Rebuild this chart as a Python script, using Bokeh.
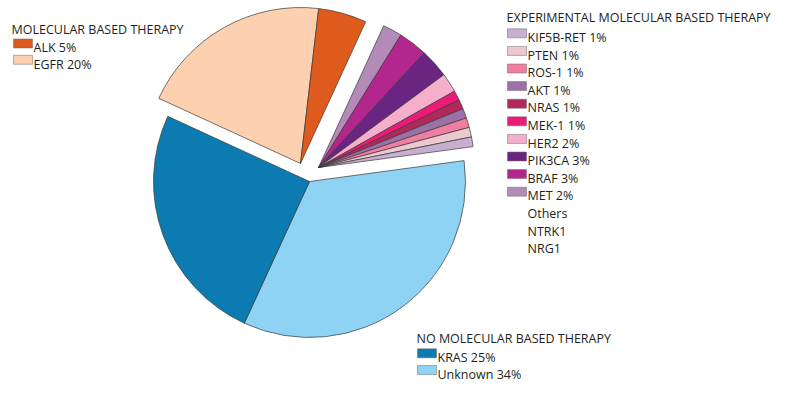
import numpy as np
from bokeh.plotting import figure
from bokeh.models import Range1d, ColumnDataSource
from bokeh.embed import file_html
from bokeh.resources import INLINE
from bokeh.core.properties import value

# ---- data (pie order, clockwise) ----
slice_names = ["Unknown", "KRAS", "EGFR", "ALK", "MET", "BRAF", "PIK3CA", "HER2",
               "MEK-1", "NRAS", "AKT", "ROS-1", "PTEN", "KIF5B-RET"]
slice_values = [34, 25, 20, 5, 2, 3, 3, 2, 1, 1, 1, 1, 1, 1]
slice_groups = ["none", "none", "mol", "mol", "exp", "exp", "exp", "exp",
                "exp", "exp", "exp", "exp", "exp", "exp"]
slice_colors = ["#8fd3f4", "#0b7bb1", "#fdd0b0", "#de5b1d", "#b48bb8", "#b3268d",
                "#6a2482", "#f6afcb", "#ec1b78", "#b3285b", "#9b72a8", "#ef7ea0",
                "#ebc9ce", "#c8afd0"]

mol_title = "MOLECULAR BASED THERAPY"
mol_items = ["ALK", "EGFR"]
exp_title = "EXPERIMENTAL MOLECULAR BASED THERAPY"
exp_items = ["KIF5B-RET", "PTEN", "ROS-1", "AKT", "NRAS", "MEK-1", "HER2",
             "PIK3CA", "BRAF", "MET"]
exp_others = ["Others", "NTRK1", "NRG1"]
none_title = "NO MOLECULAR BASED THERAPY"
none_items = ["KRAS", "Unknown"]

# ---- layout ----
W, H = 787, 386
def sy(y):  # screen y -> data y
    return 394 - y

p = figure(width=W, height=H, x_range=Range1d(0, W), y_range=Range1d(394 - H, 394),
           output_backend="svg", toolbar_location=None, min_border=0)
p.axis.visible = False
p.grid.visible = False
p.outline_line_color = None
p.background_fill_color = "white"
p.border_fill_color = "white"

R = 156
theta0 = 7.7
apex = {"none": (309, 181), "mol": (300, 163), "exp": (318, 167)}

vals = np.array(slice_values, dtype=float)
frac = vals / vals.sum()
cum = np.concatenate([[0], np.cumsum(frac)[:-1]])
start_clock = np.radians(theta0 - cum * 360)
end_clock = start_clock - np.radians(frac * 360)

src = ColumnDataSource(dict(
    x=[apex[g][0] for g in slice_groups],
    y=[sy(apex[g][1]) for g in slice_groups],
    start=end_clock, end=start_clock, color=slice_colors))
p.wedge(x="x", y="y", radius=R, start_angle="start", end_angle="end",
        fill_color="color", line_color="#3a3a3a", line_width=0.7, source=src)

color_of = dict(zip(slice_names, slice_colors))
value_of = dict(zip(slice_names, slice_values))
font = value("Open Sans")
tcol = "#231f20"
fs = "12.5px"

def legend(title, tx, ty_base, items, sx, row0, step, extra=None):
    p.text(x=[tx], y=[sy(ty_base)], text=[title], text_font=font,
           text_font_size=fs, text_baseline="alphabetic", text_color=tcol)
    tops = [row0 + i * step for i in range(len(items))]
    p.quad(left=[sx] * len(items), right=[sx + 19] * len(items),
           top=[sy(t) for t in tops], bottom=[sy(t + 9) for t in tops],
           fill_color=[color_of[n] for n in items], line_color="#6a6a6a",
           line_width=0.5)
    p.text(x=[sx + 20] * len(items), y=[sy(t + 8.7) for t in tops],
           text=[f"{n} {value_of[n]}%" for n in items], text_font=font,
           text_font_size=fs, text_baseline="alphabetic", text_color=tcol)
    if extra:
        n0 = len(items)
        p.text(x=[sx + 20] * len(extra),
               y=[sy(row0 + (n0 + i) * step + 8.7) for i in range(len(extra))],
               text=extra, text_font=font, text_font_size=fs,
               text_baseline="alphabetic", text_color=tcol)

legend(mol_title, 11, 28.5, mol_items, 13, 38.5, 16.3)
legend(exp_title, 506, 16.7, exp_items, 507, 28.3, 17.6, exp_others)
legend(none_title, 416, 338.3, none_items, 417, 348.3, 16.7)

open("out.html", "w").write(file_html(p, INLINE))
